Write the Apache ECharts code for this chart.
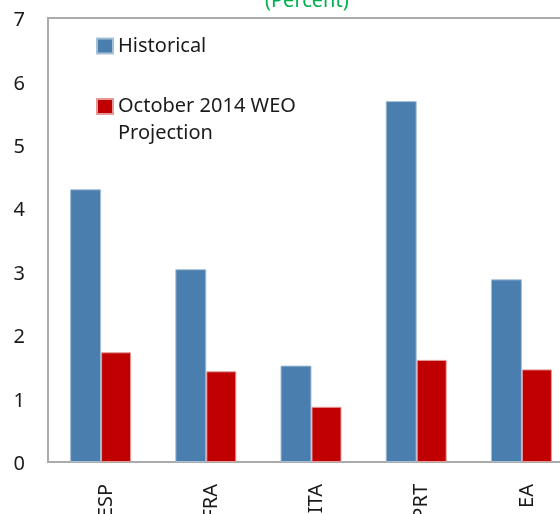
<!DOCTYPE html>
<html>
<head>
<meta charset="utf-8">
<script src="https://cdn.jsdelivr.net/npm/echarts@6/dist/echarts.min.js"></script>
<style>
  html, body { margin: 0; padding: 0; background: #fff; }
  #J_chart { width: 560px; height: 514px; }
</style>
</head>
<body>
<div id="J_chart"></div>
<script>
var categories = ['ESP', 'FRA', 'ITA', 'PRT', 'EA'];
var historical = [4.30, 3.04, 1.52, 5.69, 2.88];
var projection = [1.73, 1.43, 0.87, 1.61, 1.46];
var yTicks = [0, 1, 2, 3, 4, 5, 6, 7];

(function(){
    var myChart = echarts.init(document.getElementById('J_chart'));
    var font = '"Noto Sans", "Open Sans", sans-serif';

    var option = {
        animation: false,
        title: {
            text: '(Percent)',
            left: 265,
            top: -9,
            padding: 0,
            textStyle: {
                color: '#00B050',
                fontFamily: font,
                fontWeight: 'normal',
                fontSize: 20
            }
        },
        legend: [
            {
                data: ['Historical'],
                left: 96,
                top: 34,
                padding: 0,
                icon: 'rect',
                itemWidth: 16,
                itemHeight: 15,
                textStyle: {
                    color: '#1a1a1a',
                    fontFamily: font,
                    fontSize: 20,
                    lineHeight: 24
                }
            },
            {
                data: ['October 2014 WEO Projection'],
                left: 96,
                top: 66,
                padding: 0,
                icon: 'rect',
                itemWidth: 16,
                itemHeight: 15,
                // blank first line keeps the icon level with the first text line
                formatter: function(name){
                    return ' \nOctober 2014 WEO\nProjection';
                },
                textStyle: {
                    color: '#1a1a1a',
                    fontFamily: font,
                    fontSize: 20,
                    lineHeight: 27
                }
            }
        ],
        grid: {
            left: 48,
            top: 18,
            width: 526,
            height: 444,
            outerBoundsMode: 'none',
            show: true,
            borderColor: '#ABABAB',
            borderWidth: 2
        },
        xAxis: {
            type: 'category',
            data: categories,
            axisLine: { show: false },
            axisTick: { show: false },
            axisLabel: {
                rotate: 90,
                margin: 22,
                formatter: '{c|{value}}',
                rich: {
                    c: {
                        color: '#1a1a1a',
                        fontFamily: font,
                        fontSize: 20,
                        padding: [11, 0, 0, 0]
                    }
                }
            }
        },
        yAxis: {
            type: 'value',
            min: yTicks[0],
            max: yTicks[yTicks.length - 1],
            interval: 1,
            axisLine: { show: false },
            axisTick: { show: false },
            splitLine: { show: false },
            axisLabel: {
                margin: 23,
                formatter: '{v|{value}}',
                rich: {
                    v: {
                        color: '#1a1a1a',
                        fontFamily: font,
                        fontSize: 20,
                        padding: [5, 0, 0, 0]
                    }
                }
            }
        },
        series: [
            {
                name: 'Historical',
                type: 'bar',
                data: historical,
                barWidth: 31,
                barGap: '0%',
                itemStyle: {
                    color: '#4A7EAE',
                    borderColor: '#A7C0D8',
                    borderWidth: 1
                }
            },
            {
                name: 'October 2014 WEO Projection',
                type: 'bar',
                data: projection,
                barWidth: 30,
                barGap: '0%',
                itemStyle: {
                    color: '#C00000',
                    borderColor: '#E39A9A',
                    borderWidth: 1
                }
            }
        ]
    };

    myChart.setOption(option);
})();
</script>
</body>
</html>
